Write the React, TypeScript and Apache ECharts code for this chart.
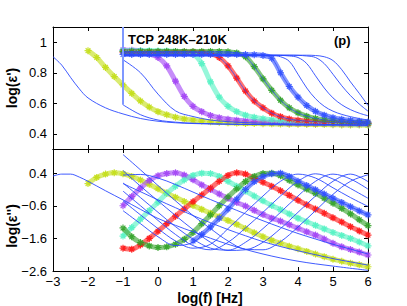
import React, { useEffect, useRef } from "react";
import * as echarts from "echarts";

// ---------- x grids ----------
const GX = [-1, -0.75, -0.5, -0.25, 0, 0.25, 0.5, 0.75, 1, 1.25, 1.5, 1.75, 2, 2.25, 2.5, 2.75, 3, 3.25, 3.5, 3.75, 4, 4.25, 4.5, 4.75, 5, 5.25, 5.5, 5.75, 6];
const YGX = [-2, -1.75, -1.5, -1.25, -1, -0.75, -0.5, -0.25, 0, 0.25, 0.5, 0.75, 1, 1.25, 1.5, 1.75, 2, 2.25, 2.5, 2.75, 3, 3.25, 3.5, 3.75, 4, 4.25, 4.5, 4.75, 5, 5.25, 5.5, 5.75, 6];
const BLUEBX = [1, 1.25, 1.5, 1.75, 2, 2.25, 2.5, 2.75, 3, 3.25, 3.5, 3.75, 4, 4.25, 4.5, 4.75, 5, 5.25, 5.5, 5.75, 6];
const HX = [-1, -0.5, 0, 0.5, 1, 1.5, 2, 2.5, 3, 3.5, 4, 4.5, 5, 5.5, 6];
const AX = [-3, -2.75, -2.5, -2.25, -2, -1.5, -1, -0.5, 0, 0.5, 1, 2, 3, 4, 5, 6];

// ---------- tick labels ----------
const xTicks = [-3, -2, -1, 0, 1, 2, 3, 4, 5, 6];
const topYTicks = [0.4, 0.6, 0.8, 1];
const botYTicks = [0.4, -0.6, -1.6, -2.6];

// ---------- marker series: log(eps') ----------
const ygTop = [0.945, 0.9, 0.835, 0.775, 0.72, 0.665, 0.615, 0.575, 0.545, 0.525, 0.508, 0.497, 0.489, 0.483, 0.478, 0.475, 0.472, 0.47, 0.468, 0.467, 0.466, 0.465, 0.464, 0.463, 0.462, 0.461, 0.46, 0.46, 0.459, 0.458, 0.457, 0.457, 0.456];
const purpleTop = [0.95, 0.948, 0.944, 0.925, 0.9, 0.845, 0.745, 0.645, 0.58, 0.545, 0.52, 0.505, 0.495, 0.489, 0.484, 0.48, 0.477, 0.475, 0.473, 0.471, 0.47, 0.469, 0.468, 0.467, 0.466, 0.465, 0.464, 0.463, 0.462];
const aquaTop = [0.945, 0.945, 0.945, 0.944, 0.943, 0.942, 0.94, 0.935, 0.925, 0.86, 0.74, 0.64, 0.58, 0.545, 0.522, 0.508, 0.498, 0.491, 0.486, 0.482, 0.478, 0.476, 0.473, 0.471, 0.469, 0.467, 0.465, 0.464, 0.462];
const redTop = [0.935, 0.935, 0.935, 0.935, 0.935, 0.935, 0.935, 0.935, 0.934, 0.932, 0.926, 0.9, 0.845, 0.765, 0.68, 0.615, 0.57, 0.535, 0.512, 0.497, 0.488, 0.483, 0.479, 0.476, 0.474, 0.472, 0.47, 0.469, 0.468];
const greenTop = [0.94, 0.94, 0.94, 0.94, 0.94, 0.94, 0.94, 0.94, 0.94, 0.94, 0.94, 0.939, 0.937, 0.93, 0.905, 0.84, 0.76, 0.685, 0.62, 0.57, 0.537, 0.515, 0.5, 0.491, 0.485, 0.48, 0.476, 0.473, 0.47];
const blueTop = [0.92, 0.92, 0.92, 0.92, 0.92, 0.92, 0.92, 0.92, 0.92, 0.92, 0.92, 0.92, 0.92, 0.92, 0.919, 0.918, 0.913, 0.895, 0.8, 0.71, 0.64, 0.585, 0.547, 0.522, 0.505, 0.495, 0.488, 0.482, 0.477];

// ---------- marker series: log(eps'') ----------
const ygBot = [0.08, 0.27, 0.37, 0.41, 0.38, 0.3, 0.19, 0.06, -0.08, -0.21, -0.34, -0.47, -0.59, -0.71, -0.83, -0.94, -1.05, -1.17, -1.3, -1.43, -1.55, -1.66, -1.75, -1.84, -1.92, -2.0, -2.08, -2.16, -2.24, -2.3, -2.36, -2.41, -2.47];
const purpleBot = [-0.6, -0.32, -0.06, 0.17, 0.32, 0.39, 0.41, 0.34, 0.2, 0.04, -0.1, -0.24, -0.37, -0.5, -0.61, -0.74, -0.87, -0.98, -1.07, -1.18, -1.29, -1.4, -1.5, -1.62, -1.75, -1.86, -1.94, -2.02, -2.11];
const aquaBot = [-1.53, -1.27, -1.01, -0.75, -0.49, -0.22, 0.0, 0.19, 0.33, 0.4, 0.39, 0.3, 0.15, 0.0, -0.15, -0.3, -0.45, -0.59, -0.72, -0.85, -0.98, -1.09, -1.2, -1.31, -1.42, -1.51, -1.6, -1.71, -1.83];
const redBot = [-1.9, -1.93, -1.8, -1.6, -1.38, -1.15, -0.92, -0.7, -0.48, -0.27, -0.06, 0.15, 0.33, 0.41, 0.37, 0.24, 0.12, 0.0, -0.14, -0.28, -0.43, -0.57, -0.7, -0.83, -0.97, -1.1, -1.24, -1.37, -1.5];
const greenBot = [-1.28, -1.55, -1.73, -1.83, -1.88, -1.86, -1.78, -1.63, -1.42, -1.15, -0.88, -0.6, -0.33, -0.08, 0.14, 0.3, 0.39, 0.4, 0.32, 0.18, 0.04, -0.09, -0.22, -0.37, -0.52, -0.68, -0.85, -1.03, -1.21];
const blueBot = [-1.68, -1.48, -1.25, -0.98, -0.7, -0.4, -0.1, 0.14, 0.3, 0.38, 0.4, 0.3, 0.15, 0.02, -0.11, -0.24, -0.37, -0.5, -0.63, -0.76, -0.88];

// ---------- thin fit lines: log(eps') ----------
const aTop = [0.905, 0.85, 0.77, 0.695, 0.635, 0.57, 0.53, 0.5, 0.482, 0.472, 0.467, 0.462, 0.46, 0.458, 0.457, 0.456];
const b1Top = [0.59, 0.525, 0.49, 0.476, 0.469, 0.466, 0.464, 0.462, 0.461, 0.46, 0.459, 0.458, 0.458, 0.457, 0.457];
const b2Top = [0.885, 0.8, 0.66, 0.55, 0.513, 0.49, 0.479, 0.473, 0.469, 0.466, 0.464, 0.462, 0.46, 0.459, 0.458];
const c1Top = [0.915, 0.915, 0.915, 0.915, 0.915, 0.915, 0.915, 0.915, 0.915, 0.915, 0.915, 0.915, 0.915, 0.915, 0.915, 0.915, 0.915, 0.913, 0.905, 0.875, 0.79, 0.7, 0.63, 0.58, 0.548, 0.527, 0.512, 0.5, 0.49];
const c2Top = [0.915, 0.915, 0.915, 0.915, 0.915, 0.915, 0.915, 0.915, 0.915, 0.915, 0.915, 0.915, 0.915, 0.915, 0.915, 0.915, 0.915, 0.915, 0.914, 0.91, 0.9, 0.86, 0.78, 0.7, 0.635, 0.59, 0.558, 0.535, 0.518];
const c3Top = [0.915, 0.915, 0.915, 0.915, 0.915, 0.915, 0.915, 0.915, 0.915, 0.915, 0.915, 0.915, 0.915, 0.915, 0.915, 0.915, 0.915, 0.915, 0.915, 0.915, 0.914, 0.91, 0.9, 0.86, 0.79, 0.715, 0.65, 0.595, 0.548];
const c4Top = [0.915, 0.915, 0.915, 0.915, 0.915, 0.915, 0.915, 0.915, 0.915, 0.915, 0.915, 0.915, 0.915, 0.915, 0.915, 0.915, 0.915, 0.915, 0.915, 0.915, 0.915, 0.915, 0.913, 0.905, 0.88, 0.82, 0.74, 0.665, 0.585];
const vLineX = [-1, -1];
const vLineY = [1.1, 0.59];

// ---------- thin fit lines: log(eps'') ----------
const aBot = [0.31, 0.37, 0.37, 0.28, 0.15, -0.14, -0.42, -0.71, -0.99, -1.2, -1.4, -1.78, -2.08, -2.3, -2.45, -2.58];
const b1Bot = [0.08, -0.17, -0.42, -0.66, -0.9, -1.12, -1.33, -1.52, -1.7, -1.85, -1.98, -2.1, -2.22, -2.32, -2.42];
const b2Bot = [0.34, 0.36, 0.25, 0.05, -0.18, -0.41, -0.63, -0.85, -1.06, -1.26, -1.45, -1.62, -1.78, -1.93, -2.08];
const blueFitBot = [-0.75, -1.15, -1.55, -1.82, -1.72, -1.25, -0.7, -0.1, 0.3, 0.4, 0.15, -0.11, -0.37, -0.63, -0.88];
const c1Bot = [-0.45, -0.88, -1.3, -1.68, -1.9, -1.78, -1.3, -0.8, -0.3, 0.15, 0.37, 0.25, -0.05, -0.35, -0.62];
const c2Bot = [-0.15, -0.6, -1.05, -1.48, -1.82, -1.95, -1.72, -1.28, -0.8, -0.3, 0.15, 0.38, 0.22, -0.07, -0.37];
const c3Bot = [0.1, -0.35, -0.8, -1.24, -1.62, -1.9, -1.96, -1.72, -1.3, -0.8, -0.3, 0.15, 0.37, 0.22, -0.09];
const c4Bot = [0.48, 0.0, -0.45, -0.9, -1.33, -1.72, -1.97, -1.95, -1.72, -1.3, -0.8, -0.3, 0.15, 0.37, 0.14];
const c5Bot = [0.97, 0.5, 0.02, -0.45, -0.9, -1.3, -1.68, -1.93, -1.95, -1.7, -1.25, -0.75, -0.25, 0.15, 0.35];

const C_YG = "#c2dd12";
const C_PURPLE = "#a040f5";
const C_AQUA = "#50f2c2";
const C_RED = "#ff1010";
const C_GREEN = "#2ea024";
const C_BLUE = "#3050ff";
const C_FIT = "#2a48ff";
const FONT = "'Liberation Sans', Arial, Helvetica, sans-serif";

const STAR = "path://M5 0L5 10M0 5L10 5M1.6 1.6L8.4 8.4M1.6 8.4L8.4 1.6";

const zip = (xs: number[], ys: number[]) => xs.map((x, i) => [x, ys[i]]);
const fmt = (v: number) => String(v).replace("-", "\u2212");

function markerSeries(xs: number[], ys: number[], color: string, panel: number) {
  return {
    type: "line",
    xAxisIndex: panel === 0 ? 0 : 2,
    yAxisIndex: panel === 0 ? 0 : 2,
    data: zip(xs, ys),
    smooth: 0.3,
    symbol: STAR,
    symbolSize: 7,
    showSymbol: true,
    itemStyle: { color: color, borderColor: color, borderWidth: 1.2, opacity: 0.85 },
    lineStyle: { color: color, width: 5, opacity: 0.6 },
    z: 2,
    silent: true,
  };
}

function thinSeries(xs: number[], ys: number[], panel: number, width = 0.9, color = C_FIT, smooth: number | boolean = 0.35) {
  return {
    type: "line",
    xAxisIndex: panel === 0 ? 0 : 2,
    yAxisIndex: panel === 0 ? 0 : 2,
    data: zip(xs, ys),
    smooth: smooth,
    symbol: "none",
    lineStyle: { color: color, width: width },
    z: 3,
    silent: true,
  };
}

const GRID_L = 53;
const GRID_W = 315;

function xAxisDef(gridIndex: number, position: string, labels: boolean) {
  return {
    type: "value",
    gridIndex,
    position,
    min: -3,
    max: 6,
    interval: 1,
    axisLine: { show: true, onZero: false, lineStyle: { color: "#000", width: 1 } },
    axisTick: { show: true, inside: true, length: 4, lineStyle: { color: "#000" } },
    axisLabel: {
      show: labels,
      color: "#000",
      fontSize: 13,
      fontFamily: FONT,
      margin: 4,
      formatter: (v: number) => (xTicks.indexOf(v) >= 0 ? fmt(v) : ""),
    },
    splitLine: { show: false },
  };
}

function yAxisDef(gridIndex: number, position: string, labels: boolean, min: number, max: number, ticks: number[]) {
  return {
    type: "value",
    gridIndex,
    position,
    min,
    max,
    axisLine: { show: true, onZero: false, lineStyle: { color: "#000", width: 1 } },
    axisTick: { show: true, inside: true, length: 4, lineStyle: { color: "#000" }, customValues: ticks },
    axisLabel: {
      show: labels,
      color: "#000",
      fontSize: 13,
      fontFamily: FONT,
      margin: 6,
      customValues: ticks,
      formatter: (v: number) => fmt(v),
    },
    splitLine: { show: false },
  };
}

export default function App() {
  const ref = useRef<HTMLDivElement>(null);
  useEffect(() => {
    if (!ref.current) return;
    const chart = echarts.init(ref.current, undefined, { renderer: "svg" });
    const option: any = {
      animation: false,
      backgroundColor: "#ffffff",
      grid: [
        { left: GRID_L, top: 27, width: GRID_W, height: 122 },
        { left: GRID_L, top: 149, width: GRID_W, height: 122 },
      ],
      xAxis: [
        xAxisDef(0, "bottom", false),
        xAxisDef(0, "top", false),
        xAxisDef(1, "bottom", true),
        xAxisDef(1, "top", false),
      ],
      yAxis: [
        yAxisDef(0, "left", true, 0.3, 1.1, topYTicks),
        yAxisDef(0, "right", false, 0.3, 1.1, topYTicks),
        yAxisDef(1, "left", true, -2.6, 1.14, botYTicks),
        yAxisDef(1, "right", false, -2.6, 1.14, botYTicks),
      ],
      series: [
        markerSeries(YGX, ygTop, C_YG, 0),
        markerSeries(GX, purpleTop, C_PURPLE, 0),
        markerSeries(GX, aquaTop, C_AQUA, 0),
        markerSeries(GX, redTop, C_RED, 0),
        markerSeries(GX, greenTop, C_GREEN, 0),
        markerSeries(GX, blueTop, C_BLUE, 0),
        thinSeries(AX, aTop, 0),
        thinSeries(HX, b1Top, 0),
        thinSeries(HX, b2Top, 0),
        thinSeries(GX, c1Top, 0),
        thinSeries(GX, c2Top, 0),
        thinSeries(GX, c3Top, 0),
        thinSeries(GX, c4Top, 0),
        thinSeries(GX, blueTop, 0, 0.7),
        thinSeries(GX, greenTop, 0, 0.7),
        thinSeries(GX, redTop, 0, 0.7),
        thinSeries(vLineX, vLineY, 0, 2, "#7f98ff", false),
        markerSeries(YGX, ygBot, C_YG, 1),
        markerSeries(GX, purpleBot, C_PURPLE, 1),
        markerSeries(GX, aquaBot, C_AQUA, 1),
        markerSeries(GX, redBot, C_RED, 1),
        markerSeries(GX, greenBot, C_GREEN, 1),
        markerSeries(BLUEBX, blueBot, C_BLUE, 1),
        thinSeries(AX, aBot, 1),
        thinSeries(HX, b1Bot, 1),
        thinSeries(HX, b2Bot, 1),
        thinSeries(HX, blueFitBot, 1),
        thinSeries(HX, c1Bot, 1),
        thinSeries(HX, c2Bot, 1),
        thinSeries(HX, c3Bot, 1),
        thinSeries(HX, c4Bot, 1),
        thinSeries(HX, c5Bot, 1),
      ],
      graphic: [
        {
          type: "text",
          left: 128,
          top: 33,
          style: { text: "TCP 248K\u2013210K", font: `bold 13px ${FONT}`, fill: "#000" },
          z: 10,
        },
        {
          type: "text",
          left: 334,
          top: 34,
          style: { text: "(p)", font: `bold 13px ${FONT}`, fill: "#000" },
          z: 10,
        },
        {
          type: "text",
          x: 12,
          y: 88,
          rotation: Math.PI / 2,
          style: {
            text: "log(\u03b5')",
            font: `bold 14px ${FONT}`,
            fill: "#000",
            textAlign: "center",
            textVerticalAlign: "middle",
            align: "center",
            verticalAlign: "middle",
          },
          z: 10,
        },
        {
          type: "text",
          x: 12,
          y: 226,
          rotation: Math.PI / 2,
          style: {
            text: "log(\u03b5'')",
            font: `bold 14px ${FONT}`,
            fill: "#000",
            textAlign: "center",
            textVerticalAlign: "middle",
            align: "center",
            verticalAlign: "middle",
          },
          z: 10,
        },
        {
          type: "text",
          x: 210,
          y: 298,
          style: {
            text: "log(f) [Hz]",
            font: `bold 14px ${FONT}`,
            fill: "#000",
            textAlign: "center",
            textVerticalAlign: "middle",
            align: "center",
            verticalAlign: "middle",
          },
          z: 10,
        },
      ],
    };
    chart.setOption(option);
    return () => chart.dispose();
  }, []);
  return (
    <div
      ref={ref}
      style={{ position: "absolute", left: 0, top: 0, width: 407, height: 306, background: "#fff" }}
    />
  );
}
